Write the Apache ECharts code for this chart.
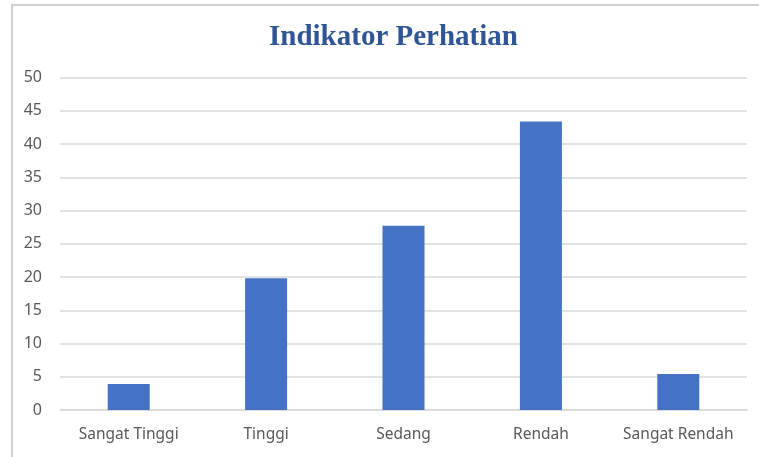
<!DOCTYPE html>
<html><head><meta charset="utf-8">
<script src="https://cdn.jsdelivr.net/npm/echarts@6/dist/echarts.min.js"></script>
<style>html,body{margin:0;padding:0;background:#fff}#c{width:759px;height:457px}</style>
</head><body><div id="c"></div>
<script>
const categories = ['Sangat Tinggi', 'Tinggi', 'Sedang', 'Rendah', 'Sangat Rendah'];
const values = [3.9, 19.8, 27.7, 43.4, 5.4];
const yTicks = { min: 0, max: 50, interval: 5 };

const chart = echarts.init(document.getElementById('c'), null, { renderer: 'canvas' });
chart.setOption({
  backgroundColor: '#ffffff',
  animation: false,
  title: {
    text: 'Indikator Perhatian',
    left: 264, top: 18,
    textStyle: { fontFamily: 'Liberation Serif', fontWeight: 'bold', fontSize: 29, color: '#2F5597' }
  },
  graphic: [
    { type: 'line', shape: { x1: 12, y1: 5, x2: 12, y2: 457 }, style: { stroke: '#d0d0d0', lineWidth: 2 } },
    { type: 'line', shape: { x1: 11, y1: 5, x2: 759, y2: 5 }, style: { stroke: '#d0d0d0', lineWidth: 2 } }
  ],
  grid: { left: 60, right: 12, top: 77.5, bottom: 47, containLabel: false },
  xAxis: {
    type: 'category', data: categories,
    axisLine: { lineStyle: { color: '#d9d9d9', width: 1.5 } },
    axisTick: { show: false },
    axisLabel: { color: '#595959', fontFamily: 'Noto Sans', fontSize: 15.5, margin: 17, interval: 0 }
  },
  yAxis: {
    type: 'value', min: yTicks.min, max: yTicks.max, interval: yTicks.interval,
    axisLine: { show: false }, axisTick: { show: false },
    axisLabel: { color: '#595959', fontFamily: 'Noto Sans', fontSize: 16, margin: 18 },
    splitLine: { lineStyle: { color: '#d9d9d9', width: 1.5 } }
  },
  series: [{
    type: 'bar', data: values, barWidth: 42,
    itemStyle: { color: '#4472C4' }
  }]
});
</script></body></html>
